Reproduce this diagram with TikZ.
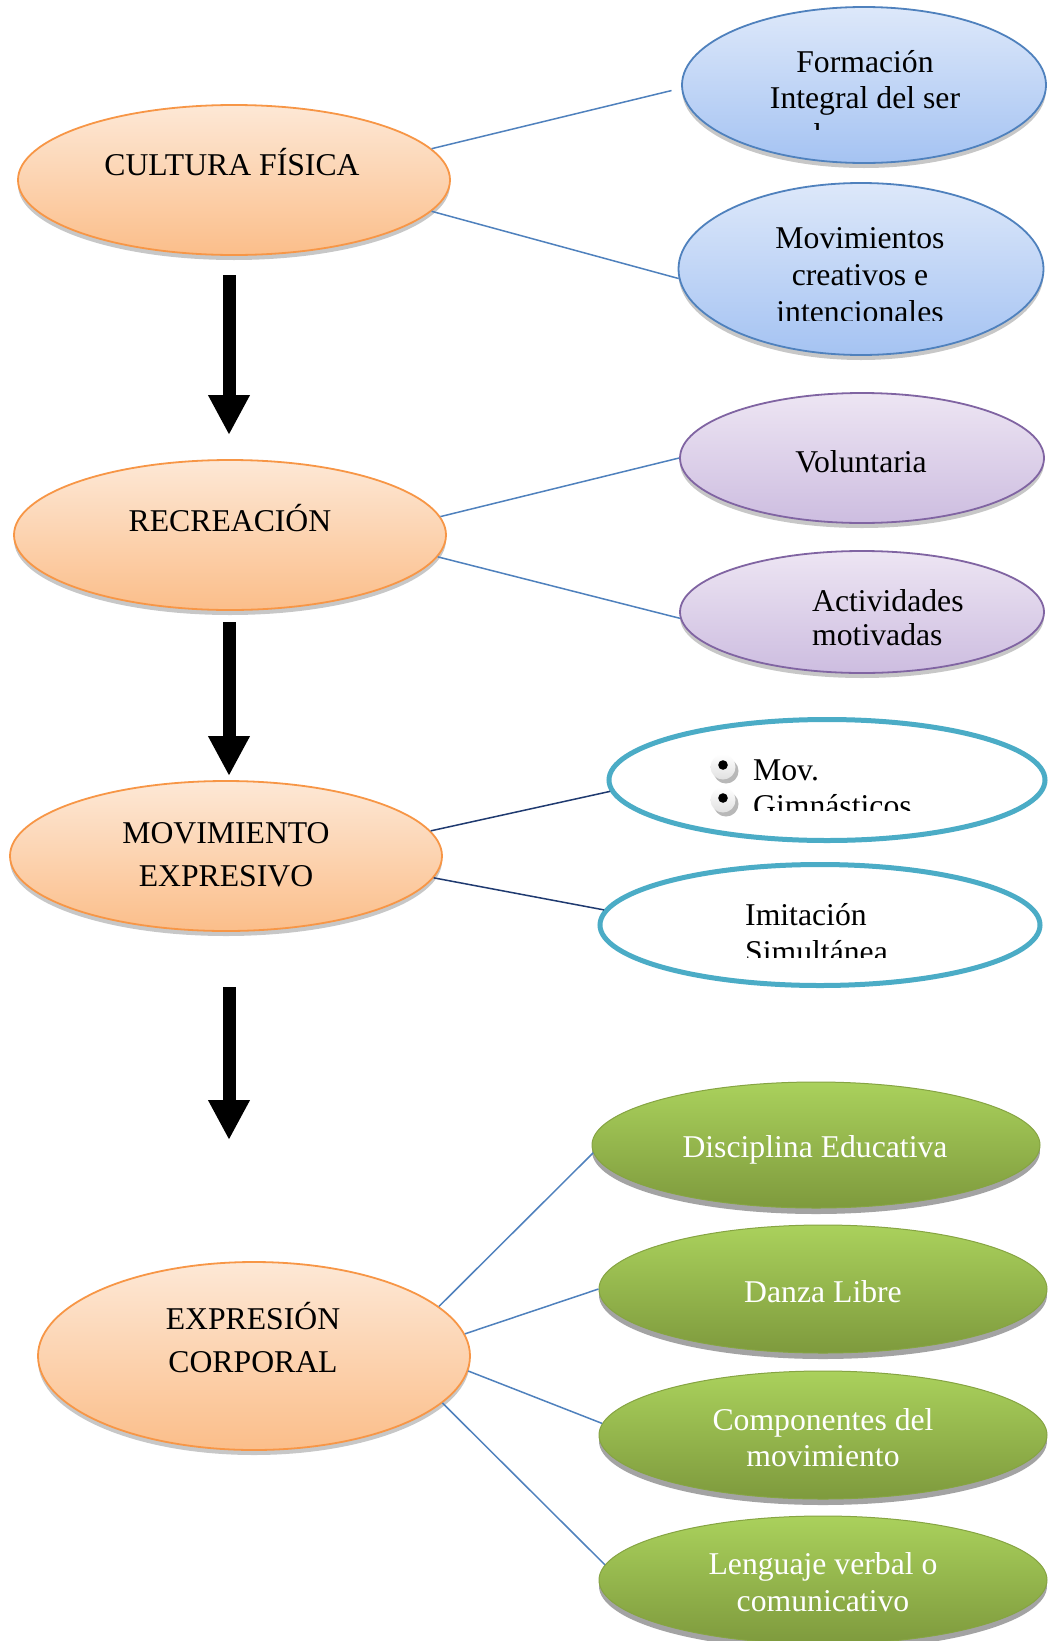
\documentclass[tikz,border=0pt]{standalone}
\usepackage{fontspec}
\setmainfont{Liberation Serif}
\usetikzlibrary{shapes.geometric,shadows,arrows.meta}
\definecolor{orLine}{HTML}{F79646}
\definecolor{orTop}{HTML}{FDE8D6}
\definecolor{orBot}{HTML}{FBBE8A}
\definecolor{blLine}{HTML}{4F81BD}
\definecolor{blTop}{HTML}{DDE8FA}
\definecolor{blBot}{HTML}{A5C3F2}
\definecolor{puLine}{HTML}{8064A2}
\definecolor{puTop}{HTML}{EDE5F3}
\definecolor{puBot}{HTML}{CDBDE0}
\definecolor{tealLine}{HTML}{4BACC6}
\definecolor{grTop}{HTML}{AAD15C}
\definecolor{grBot}{HTML}{7E9A3D}
\definecolor{grLine}{HTML}{86A443}
\definecolor{navy}{HTML}{1F3A70}
\begin{document}
\begin{tikzpicture}[x=1pt,y=-1pt,
  font=\fontsize{31.7}{36}\selectfont,
  ell/.style={ellipse, inner sep=0pt, line width=1.8pt},
  softshadow/.style={drop shadow={shadow xshift=0pt, shadow yshift=-5pt, opacity=.22, fill=black}},
  darkshadow/.style={drop shadow={shadow xshift=0pt, shadow yshift=-6pt, opacity=.45, fill=black!80}},
  orangeell/.style={ell, draw=orLine, top color=orTop, bottom color=orBot, softshadow, minimum width=432pt, minimum height=150pt},
  blueell/.style={ell, draw=blLine, top color=blTop, bottom color=blBot, softshadow},
  purpleell/.style={ell, draw=puLine, top color=puTop, bottom color=puBot, softshadow, minimum width=364pt},
  tealell/.style={ell, draw=tealLine, fill=white, line width=5pt},
  greenell/.style={ell, draw=grLine, line width=1pt, top color=grTop, bottom color=grBot, darkshadow, minimum width=448pt, minimum height=126pt},
  txt/.style={anchor=base, inner sep=0pt},
  ltxt/.style={anchor=base west, inner sep=0pt},
  wtxt/.style={txt, text=white},
  conn/.style={draw=blLine, line width=1.5pt},
  nconn/.style={draw=navy, line width=1.5pt},
  bigarrow/.style={line width=13pt, -{Triangle[width=39pt,length=40pt]}}]

\fill[white] (0,0) rectangle (1049,1641);
\useasboundingbox (0,0) rectangle (1049,1641);

% left column
\node[orangeell] (cf)  at (234,180) {};
\node[orangeell] (rec) at (230,535) {};
\node[orangeell] (me)  at (226,856) {};
\node[orangeell, minimum height=188pt] (ec) at (254,1356) {};

\node[txt] (cft) at (232,175) {CULTURA FÍSICA};
\node[txt] (rect) at (230,531) {RECREACIÓN};
\node[txt] (met1) at (226,843) {MOVIMIENTO};
\node[txt] (met2) at (226,886) {EXPRESIVO};
\node[txt] (ect1) at (253,1329) {EXPRESIÓN};
\node[txt] (ect2) at (253,1372) {CORPORAL};

% arrows
\coordinate (a1s) at (229,275);
\coordinate (a1e) at (229,435);
\coordinate (a2s) at (229,622);
\coordinate (a2e) at (229,776);
\coordinate (a3s) at (229,987);
\coordinate (a3e) at (229,1140);
\draw[bigarrow] (a1s) -- (a1e);
\draw[bigarrow] (a2s) -- (a2e);
\draw[bigarrow] (a3s) -- (a3e);

% blue
\node[blueell, minimum width=364pt, minimum height=156pt] (fi) at (864,85) {};
\node[blueell, minimum width=365pt, minimum height=172pt] (mc) at (861,269) {};
\begin{scope}
  \clip (680,0) rectangle (1049,129.5);
  \node[txt] (fit1) at (865,72) {Formación};
  \node[txt] (fit2) at (865,108) {Integral del ser};
  \node[txt] (fit3) at (865,145) {humano};
\end{scope}
\begin{scope}
  \clip (680,190) rectangle (1049,320);
  \node[txt] (mct1) at (860,248) {Movimientos};
  \node[txt] (mct2) at (860,285) {creativos e};
  \node[txt] (mct3) at (860,322) {intencionales};
\end{scope}

% purple
\node[purpleell, minimum height=130pt] (vol) at (862,458) {};
\node[purpleell, minimum height=122pt] (act) at (862,612) {};
\node[txt] (volt) at (861,472) {Voluntaria};
\node[ltxt] (actt1) at (812,611) {Actividades};
\node[ltxt] (actt2) at (812,645) {motivadas};

% teal
\node[tealell, minimum width=436pt, minimum height=121pt] (mg) at (827,780) {};
\node[tealell, minimum width=440pt, minimum height=121pt] (im) at (820,925) {};
\foreach \by in {767,800} {
  \fill[black!28] (726,\by+4) circle (12.5pt);
  \shade[top color=white, bottom color=black!12] (723,\by) circle (12.5pt);
  \fill[black] (723,\by-2) circle (4.8pt);
}
\begin{scope}
  \clip (700,720) rectangle (1000,810);
  \node[ltxt] (mgt1) at (753,780) {Mov.};
  \node[ltxt] (mgt2) at (753,816) {Gimnásticos};
\end{scope}
\begin{scope}
  \clip (700,870) rectangle (1000,957);
  \node[ltxt] (imt1) at (745,925) {Imitación};
  \node[ltxt] (imt2) at (745,962) {Simultánea};
\end{scope}

% green
\node[greenell] (de) at (816,1145) {};
\node[greenell, minimum height=128pt] (dl) at (823,1289) {};
\node[greenell, minimum height=128pt] (cm) at (823,1435) {};
\node[greenell, minimum height=128pt] (lv) at (823,1580) {};
\node[wtxt] (det) at (815,1157) {Disciplina Educativa};
\node[wtxt] (dlt) at (823,1302) {Danza Libre};
\node[wtxt] (cmt1) at (823,1430) {Componentes del};
\node[wtxt] (cmt2) at (823,1466) {movimiento};
\node[wtxt] (lvt1) at (823,1574) {Lenguaje verbal o};
\node[wtxt] (lvt2) at (823,1611) {comunicativo};

% connectors
\draw[conn, shorten >=10pt] (cf.9) -- (fi.181);
\draw[conn] (cf.-9) -- (mc.183);
\draw[conn] (rec.5) -- (vol.180);
\draw[conn] (rec.-6) -- (act.182);
\draw[nconn] (me.7) -- (mg.183);
\draw[nconn] (me.-6) -- (im.176);
\draw[conn] (ec.15) -- (de.182);
\draw[conn] (ec.6) -- (dl.180);
\draw[conn] (ec.-4) -- (cm.177);
\draw[conn] (ec.-14) -- (lv.176);
\end{tikzpicture}
\end{document}
